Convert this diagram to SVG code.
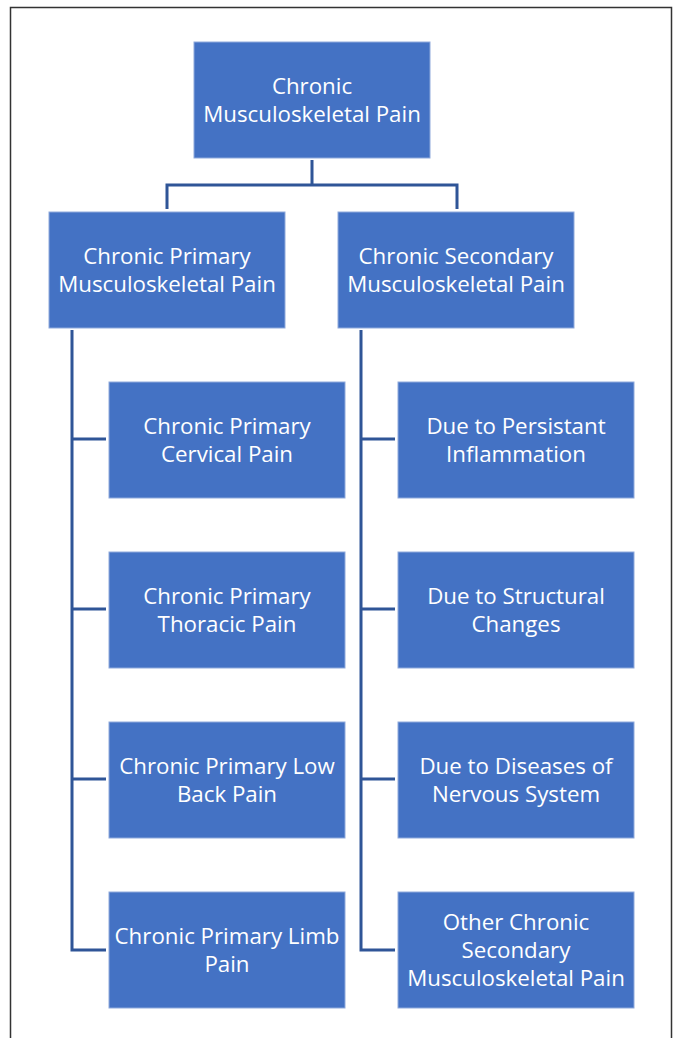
<svg xmlns="http://www.w3.org/2000/svg" width="676" height="1038" viewBox="0 0 676 1038">
<style>
.box{fill:#4472C4;stroke:#8FAADC;stroke-width:1}
.t{font-family:"Open Sans","Liberation Sans",sans-serif;font-size:22.3px;fill:#ffffff;text-anchor:middle;dominant-baseline:central}
.c{fill:none;stroke:#2F5597;stroke-width:3;stroke-linecap:butt;stroke-linejoin:miter}
</style>
<rect x="0" y="0" width="676" height="1038" fill="#ffffff"/>
<path d="M10.5 1038 V7.5 H671.5 V1038" fill="none" stroke="#333333" stroke-width="1.5"/>
<g id="connectors">
<path class="c" d="M312 160 V185 M167 209 V185 H457 V209"/>
<path class="c" d="M72 330 V950 H106 M72 439 H106 M72 609 H106 M72 779 H106"/>
<path class="c" d="M361 330 V950 H395 M361 439 H395 M361 609 H395 M361 779 H395"/>
</g>
<g id="root"><rect class="box" x="194" y="42" width="236" height="116"/><text class="t" x="312" y="85">Chronic</text><text class="t" x="312" y="113">Musculoskeletal Pain</text></g>
<g id="primary"><rect class="box" x="49" y="212" width="236" height="116"/><text class="t" x="167" y="255">Chronic Primary</text><text class="t" x="167" y="283">Musculoskeletal Pain</text></g>
<g id="secondary"><rect class="box" x="338" y="212" width="236" height="116"/><text class="t" x="456" y="255">Chronic Secondary</text><text class="t" x="456" y="283">Musculoskeletal Pain</text></g>
<g id="cervical"><rect class="box" x="109" y="382" width="236" height="116"/><text class="t" x="227" y="425">Chronic Primary</text><text class="t" x="227" y="453">Cervical Pain</text></g>
<g id="thoracic"><rect class="box" x="109" y="552" width="236" height="116"/><text class="t" x="227" y="595">Chronic Primary</text><text class="t" x="227" y="623">Thoracic Pain</text></g>
<g id="lowback"><rect class="box" x="109" y="722" width="236" height="116"/><text class="t" x="227" y="765">Chronic Primary Low</text><text class="t" x="227" y="793">Back Pain</text></g>
<g id="limb"><rect class="box" x="109" y="892" width="236" height="116"/><text class="t" x="227" y="935">Chronic Primary Limb</text><text class="t" x="227" y="963">Pain</text></g>
<g id="inflammation"><rect class="box" x="398" y="382" width="236" height="116"/><text class="t" x="516" y="425">Due to Persistant</text><text class="t" x="516" y="453">Inflammation</text></g>
<g id="structural"><rect class="box" x="398" y="552" width="236" height="116"/><text class="t" x="516" y="595">Due to Structural</text><text class="t" x="516" y="623">Changes</text></g>
<g id="nervous"><rect class="box" x="398" y="722" width="236" height="116"/><text class="t" x="516" y="765">Due to Diseases of</text><text class="t" x="516" y="793">Nervous System</text></g>
<g id="other"><rect class="box" x="398" y="892" width="236" height="116"/><text class="t" x="516" y="921">Other Chronic</text><text class="t" x="516" y="949">Secondary</text><text class="t" x="516" y="977">Musculoskeletal Pain</text></g>
</svg>
